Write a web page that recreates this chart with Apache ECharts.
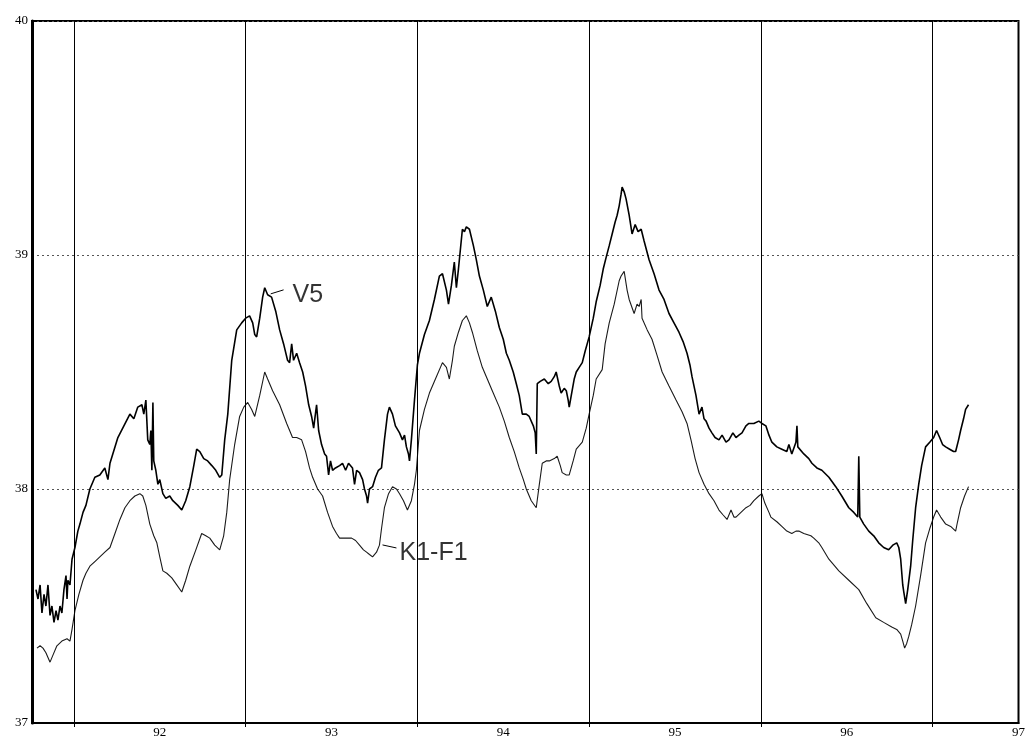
<!DOCTYPE html>
<html>
<head>
<meta charset="utf-8">
<title>V5 / K1-F1</title>
<script src="https://cdn.jsdelivr.net/npm/echarts@6/dist/echarts.min.js"></script>
<style>
  html, body { margin: 0; padding: 0; background: #fff; }
  #chart { width: 1028px; height: 740px; }
</style>
</head>
<body>
<div id="chart"></div>
<script>
// Axis ranges and tick labels
const xMin = 91.256, xMax = 97;
const yMin = 37, yMax = 40;
const xTickLabels = [92, 93, 94, 95, 96, 97];
const yearLines = [91.5, 92.5, 93.5, 94.5, 95.5, 96.5];

// V5 record: [year, temperature]
const v5 = [
  [91.279,37.57],[91.291,37.53],[91.303,37.59],[91.314,37.47],[91.326,37.55],[91.337,37.50],
  [91.349,37.59],[91.361,37.46],[91.372,37.50],[91.384,37.43],[91.396,37.48],[91.407,37.44],
  [91.419,37.50],[91.430,37.47],[91.442,37.57],[91.454,37.63],[91.460,37.53],[91.465,37.61],
  [91.477,37.59],[91.489,37.70],[91.506,37.75],[91.523,37.82],[91.535,37.85],[91.553,37.90],
  [91.570,37.93],[91.593,38.00],[91.622,38.05],[91.651,38.06],[91.680,38.09],[91.698,38.04],
  [91.710,38.11],[91.756,38.22],[91.791,38.27],[91.826,38.32],[91.849,38.30],[91.872,38.35],
  [91.896,38.36],[91.907,38.32],[91.919,38.38],[91.930,38.21],[91.942,38.19],[91.948,38.25],
  [91.954,38.08],[91.960,38.37],[91.965,38.12],[91.977,38.08],[91.989,38.02],[92.000,38.04],
  [92.018,37.98],[92.035,37.96],[92.058,37.97],[92.076,37.95],[92.105,37.93],[92.128,37.91],
  [92.151,37.95],[92.175,38.01],[92.198,38.10],[92.215,38.17],[92.233,38.16],[92.256,38.13],
  [92.279,38.12],[92.303,38.10],[92.326,38.08],[92.349,38.05],[92.361,38.06],[92.378,38.21],
  [92.396,38.32],[92.419,38.55],[92.448,38.68],[92.477,38.71],[92.500,38.73],[92.523,38.74],
  [92.541,38.71],[92.553,38.66],[92.564,38.65],[92.582,38.73],[92.599,38.82],[92.611,38.86],
  [92.628,38.83],[92.651,38.82],[92.675,38.76],[92.698,38.68],[92.721,38.62],[92.744,38.55],
  [92.756,38.54],[92.768,38.62],[92.779,38.55],[92.797,38.58],[92.814,38.54],[92.832,38.50],
  [92.849,38.44],[92.867,38.36],[92.884,38.31],[92.896,38.26],[92.901,38.29],[92.913,38.36],
  [92.925,38.25],[92.942,38.19],[92.960,38.15],[92.971,38.14],[92.983,38.06],[92.994,38.12],
  [93.006,38.08],[93.023,38.09],[93.047,38.10],[93.064,38.11],[93.082,38.08],[93.099,38.11],
  [93.122,38.09],[93.134,38.02],[93.146,38.08],[93.163,38.07],[93.181,38.04],[93.192,38.00],
  [93.204,37.97],[93.210,37.94],[93.221,38.00],[93.239,38.01],[93.256,38.05],[93.273,38.08],
  [93.291,38.09],[93.308,38.21],[93.326,38.32],[93.337,38.35],[93.355,38.32],[93.372,38.27],
  [93.396,38.24],[93.413,38.21],[93.425,38.23],[93.436,38.18],[93.448,38.15],[93.454,38.12],
  [93.465,38.21],[93.483,38.38],[93.500,38.53],[93.512,38.58],[93.541,38.66],[93.570,38.72],
  [93.599,38.81],[93.628,38.91],[93.646,38.92],[93.669,38.85],[93.681,38.79],[93.698,38.87],
  [93.715,38.97],[93.727,38.86],[93.739,38.94],[93.762,39.11],[93.774,39.10],[93.785,39.12],
  [93.803,39.11],[93.826,39.04],[93.843,38.98],[93.861,38.91],[93.884,38.85],[93.907,38.78],
  [93.930,38.82],[93.954,38.76],[93.977,38.69],[94.000,38.64],[94.018,38.58],[94.035,38.55],
  [94.058,38.50],[94.076,38.45],[94.093,38.40],[94.111,38.32],[94.134,38.32],[94.151,38.31],
  [94.175,38.27],[94.186,38.24],[94.192,38.15],[94.198,38.45],[94.215,38.46],[94.239,38.47],
  [94.262,38.45],[94.279,38.46],[94.297,38.48],[94.308,38.50],[94.326,38.44],[94.337,38.41],
  [94.355,38.43],[94.367,38.42],[94.378,38.38],[94.384,38.35],[94.396,38.40],[94.413,38.47],
  [94.425,38.50],[94.442,38.52],[94.460,38.54],[94.477,38.59],[94.500,38.65],[94.524,38.73],
  [94.541,38.80],[94.564,38.87],[94.582,38.94],[94.599,38.99],[94.617,39.04],[94.634,39.09],
  [94.651,39.14],[94.663,39.17],[94.675,39.21],[94.686,39.26],[94.692,39.29],[94.704,39.27],
  [94.715,39.24],[94.733,39.17],[94.750,39.09],[94.768,39.13],[94.785,39.10],[94.803,39.11],
  [94.820,39.06],[94.849,38.98],[94.878,38.92],[94.907,38.85],[94.936,38.81],[94.965,38.75],
  [94.994,38.71],[95.023,38.67],[95.047,38.63],[95.070,38.58],[95.087,38.53],[95.099,38.48],
  [95.122,38.40],[95.140,38.32],[95.157,38.35],[95.169,38.30],[95.181,38.29],[95.198,38.26],
  [95.215,38.24],[95.233,38.22],[95.256,38.21],[95.274,38.23],[95.297,38.20],[95.314,38.21],
  [95.337,38.24],[95.355,38.22],[95.372,38.23],[95.390,38.24],[95.413,38.27],[95.430,38.28],
  [95.459,38.28],[95.488,38.29],[95.506,38.28],[95.529,38.27],[95.547,38.23],[95.564,38.20],
  [95.593,38.18],[95.622,38.17],[95.651,38.16],[95.663,38.19],[95.680,38.15],[95.704,38.20],
  [95.710,38.27],[95.715,38.18],[95.750,38.15],[95.779,38.13],[95.797,38.11],[95.826,38.09],
  [95.855,38.08],[95.896,38.05],[95.936,38.01],[95.971,37.97],[96.012,37.92],[96.041,37.90],
  [96.064,37.88],[96.070,38.14],[96.076,37.88],[96.099,37.85],[96.128,37.82],[96.157,37.80],
  [96.186,37.77],[96.215,37.75],[96.244,37.74],[96.268,37.76],[96.291,37.77],[96.303,37.75],
  [96.314,37.70],[96.326,37.59],[96.332,37.56],[96.343,37.51],[96.355,37.57],[96.372,37.67],
  [96.384,37.78],[96.401,37.92],[96.419,38.02],[96.436,38.10],[96.459,38.18],[96.483,38.20],
  [96.506,38.22],[96.523,38.25],[96.541,38.22],[96.558,38.19],[96.576,38.18],[96.599,38.17],
  [96.622,38.16],[96.634,38.16],[96.651,38.21],[96.663,38.25],[96.680,38.30],[96.692,38.34],
  [96.709,38.36]
];

// K1-F1 record: [year, temperature]
const k1f1 = [
  [91.285,37.32],[91.303,37.33],[91.320,37.32],[91.337,37.30],[91.361,37.26],[91.378,37.29],
  [91.401,37.33],[91.430,37.35],[91.460,37.36],[91.477,37.35],[91.489,37.40],[91.506,37.48],
  [91.529,37.55],[91.553,37.61],[91.570,37.64],[91.593,37.67],[91.622,37.69],[91.651,37.71],
  [91.680,37.73],[91.710,37.75],[91.739,37.81],[91.768,37.87],[91.797,37.92],[91.826,37.95],
  [91.855,37.97],[91.884,37.98],[91.901,37.97],[91.919,37.93],[91.942,37.85],[91.965,37.80],
  [91.983,37.77],[92.000,37.71],[92.018,37.65],[92.041,37.64],[92.070,37.62],[92.099,37.59],
  [92.128,37.56],[92.151,37.61],[92.175,37.67],[92.210,37.74],[92.244,37.81],[92.268,37.80],
  [92.291,37.79],[92.320,37.76],[92.349,37.74],[92.372,37.80],[92.390,37.90],[92.407,38.04],
  [92.436,38.19],[92.465,38.31],[92.489,38.35],[92.512,38.37],[92.535,38.34],[92.553,38.31],
  [92.582,38.40],[92.611,38.50],[92.628,38.47],[92.657,38.42],[92.698,38.36],[92.739,38.28],
  [92.773,38.22],[92.797,38.22],[92.826,38.21],[92.849,38.16],[92.872,38.09],[92.890,38.05],
  [92.919,38.00],[92.948,37.97],[92.977,37.90],[93.006,37.84],[93.029,37.81],[93.047,37.79],
  [93.082,37.79],[93.117,37.79],[93.140,37.78],[93.163,37.76],[93.186,37.74],[93.204,37.73],
  [93.221,37.72],[93.239,37.71],[93.262,37.73],[93.279,37.76],[93.291,37.83],[93.308,37.92],
  [93.332,37.98],[93.355,38.01],[93.378,38.00],[93.396,37.98],[93.419,37.95],[93.442,37.91],
  [93.465,37.95],[93.483,38.02],[93.494,38.08],[93.512,38.25],[93.541,38.34],[93.570,38.41],
  [93.605,38.47],[93.646,38.54],[93.669,38.52],[93.686,38.47],[93.704,38.55],[93.715,38.61],
  [93.739,38.67],[93.762,38.72],[93.785,38.74],[93.803,38.71],[93.820,38.67],[93.849,38.59],
  [93.878,38.52],[93.907,38.47],[93.936,38.42],[93.977,38.35],[94.006,38.29],[94.035,38.22],
  [94.064,38.16],[94.093,38.09],[94.117,38.04],[94.134,38.00],[94.163,37.95],[94.192,37.92],
  [94.210,38.02],[94.227,38.11],[94.250,38.12],[94.268,38.12],[94.297,38.13],[94.314,38.14],
  [94.332,38.10],[94.343,38.07],[94.367,38.06],[94.384,38.06],[94.407,38.12],[94.425,38.17],
  [94.460,38.20],[94.483,38.26],[94.500,38.32],[94.524,38.40],[94.541,38.47],[94.576,38.51],
  [94.593,38.62],[94.617,38.71],[94.646,38.79],[94.675,38.89],[94.686,38.91],[94.704,38.93],
  [94.721,38.85],[94.733,38.81],[94.762,38.75],[94.779,38.79],[94.791,38.78],[94.803,38.81],
  [94.808,38.73],[94.838,38.68],[94.866,38.64],[94.896,38.57],[94.925,38.50],[94.965,38.44],
  [95.006,38.38],[95.041,38.33],[95.070,38.28],[95.093,38.21],[95.117,38.13],[95.140,38.07],
  [95.169,38.02],[95.198,37.98],[95.227,37.95],[95.256,37.91],[95.279,37.89],[95.303,37.87],
  [95.326,37.91],[95.343,37.88],[95.355,37.88],[95.384,37.90],[95.413,37.92],[95.437,37.93],
  [95.459,37.95],[95.488,37.97],[95.506,37.98],[95.523,37.94],[95.547,37.90],[95.558,37.88],
  [95.593,37.86],[95.622,37.84],[95.651,37.82],[95.680,37.81],[95.704,37.82],[95.721,37.82],
  [95.750,37.81],[95.791,37.80],[95.808,37.79],[95.837,37.77],[95.855,37.75],[95.896,37.70],
  [95.954,37.65],[96.012,37.61],[96.070,37.57],[96.117,37.51],[96.169,37.45],[96.215,37.43],
  [96.262,37.41],[96.291,37.40],[96.314,37.38],[96.326,37.35],[96.337,37.32],[96.349,37.34],
  [96.361,37.37],[96.378,37.42],[96.401,37.50],[96.430,37.63],[96.459,37.77],[96.483,37.83],
  [96.506,37.88],[96.523,37.91],[96.547,37.88],[96.576,37.85],[96.605,37.84],[96.634,37.82],
  [96.645,37.86],[96.663,37.92],[96.686,37.97],[96.709,38.01]
];

// Curve names, where their tags sit, and the short leaders to the curves
const seriesNames = ['V5', 'K1-F1'];
const tagAnchors = [[92.773, 38.83], [93.396, 37.727]];
const tagLeaders = [
  [[92.646, 38.834], [92.721, 38.851]],
  [[93.297, 37.761], [93.378, 37.748]]
];

const chart = echarts.init(document.getElementById('chart'), null, { renderer: 'canvas' });

const tickFont = { fontFamily: 'Liberation Serif', fontSize: 13, color: '#000' };

chart.setOption({
  backgroundColor: '#fff',
  animation: false,
  grid: {
    left: 32, right: 8, top: 21, bottom: 17,
    show: true, borderColor: '#000', borderWidth: 2, backgroundColor: 'transparent'
  },
  xAxis: {
    type: 'value', min: xMin, max: xMax,
    axisLine: { show: true, onZero: false, lineStyle: { color: '#000', width: 2 } },
    axisTick: { show: true, customValues: yearLines, length: 4, inside: false, lineStyle: { color: '#000' } },
    axisLabel: Object.assign({ customValues: xTickLabels, margin: 3, showMaxLabel: true }, tickFont),
    splitLine: { show: false }
  },
  yAxis: {
    type: 'value', min: yMin, max: yMax, interval: 1,
    axisLine: { show: true, lineStyle: { color: '#000', width: 3 } },
    axisTick: { show: false },
    axisLabel: Object.assign({ margin: 4 }, tickFont),
    splitLine: { show: true, lineStyle: { color: '#555', width: 1, type: [2, 3] } }
  },
  series: [
    {
      name: seriesNames[0], type: 'line', data: v5, showSymbol: false, symbol: 'none',
      lineStyle: { color: '#000', width: 1.6 }, z: 3,
      markLine: {
        silent: true, symbol: 'none', animation: false,
        label: { show: false },
        lineStyle: { color: '#000', width: 1, type: 'solid' },
        data: yearLines.map(v => ({ xAxis: v })).concat([
          [{ coord: tagLeaders[0][0] }, { coord: tagLeaders[0][1] }]
        ])
      }
    },
    {
      name: seriesNames[1], type: 'line', data: k1f1, showSymbol: false, symbol: 'none',
      lineStyle: { color: '#1a1a1a', width: 1.1 }, z: 3,
      markLine: {
        silent: true, symbol: 'none', animation: false,
        label: { show: false },
        lineStyle: { color: '#000', width: 1, type: 'solid' },
        data: [[{ coord: tagLeaders[1][0] }, { coord: tagLeaders[1][1] }]]
      }
    },
    {
      type: 'scatter', symbolSize: 0, silent: true, z: 4,
      data: seriesNames.map((n, i) => ({ name: n, value: tagAnchors[i] })),
      label: {
        show: true, position: 'right', distance: 0, formatter: '{b}',
        fontFamily: 'Liberation Sans', fontSize: 25, color: '#000'
      }
    }
  ]
});
</script>
</body>
</html>
